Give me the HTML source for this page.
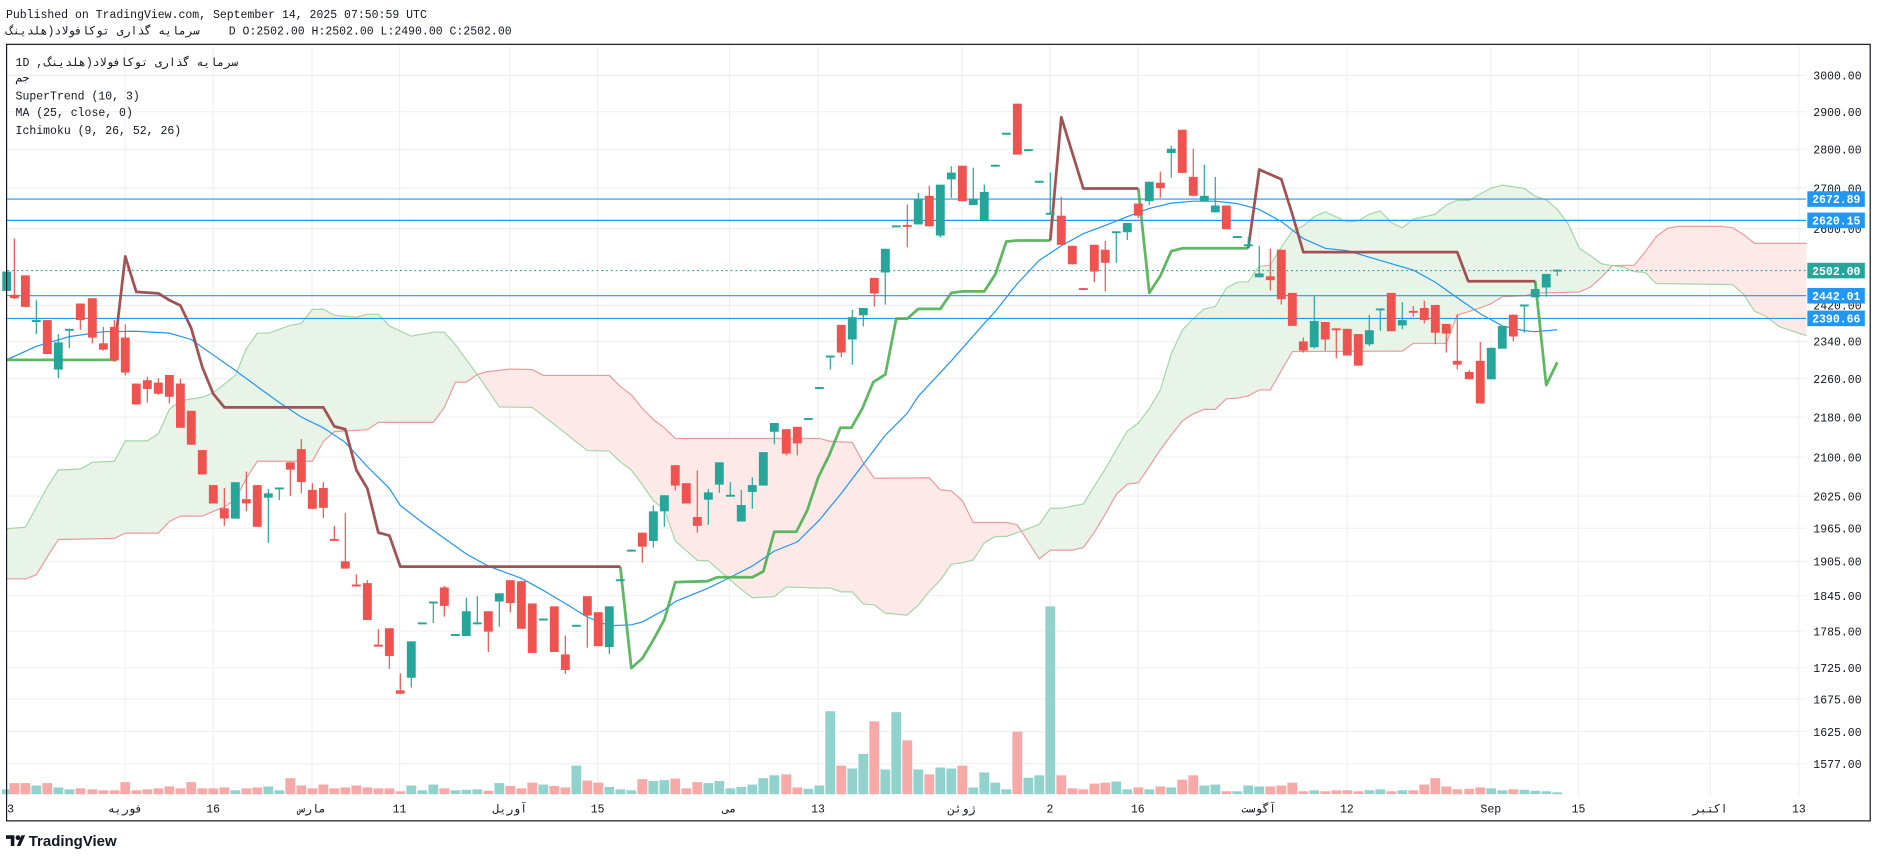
<!DOCTYPE html>
<html><head><meta charset="utf-8"><style>
html,body{margin:0;padding:0;background:#fff;width:1878px;height:858px;overflow:hidden;}
svg{display:block;}
text{font-family:"Liberation Mono","DejaVu Sans Mono","DejaVu Sans",monospace;}
</style></head><body>
<svg id="s" xmlns="http://www.w3.org/2000/svg" width="1878" height="858" viewBox="0 0 1568 716" preserveAspectRatio="none">
<rect x="0" y="0" width="1568" height="716" fill="#fff"/>
<g id="grid"></g>
<g id="cloud"></g>
<g id="vol"></g>
<g id="hl"></g>
<g id="lines"></g>
<g id="candles"></g>
<g id="axis"></g>
<rect x="5.5" y="37" width="1556" height="648" fill="none" stroke="#131722" stroke-width="1"/>
<text x="5" y="15" font-size="9.6" fill="#131722">Published on TradingView.com, September 14, 2025 07:50:59 UTC</text>
<text x="5" y="29" font-size="9.6" fill="#131722" direction="ltr"><tspan>سرمایه گذاری توکافولاد(هلدینگ</tspan></text>
<text x="191" y="29" font-size="9.6" fill="#131722">D O:2502.00 H:2502.00 L:2490.00 C:2502.00</text>
<text x="13" y="55" font-size="9.6" fill="#131722">1D ,</text>
<text x="37" y="55" font-size="9.6" fill="#131722"><tspan>سرمایه گذاری توکافولاد(هلدینگ</tspan></text>
<text x="13" y="68" font-size="9.6" fill="#131722">جم</text>
<text x="13" y="83" font-size="9.6" fill="#131722">SuperTrend (10, 3)</text>
<text x="13" y="97" font-size="9.6" fill="#131722">MA (25, close, 0)</text>
<text x="13" y="112" font-size="9.6" fill="#131722">Ichimoku (9, 26, 52, 26)</text>
<g transform="translate(5,694)">
<path d="M0 3h7v9h-3v-6h-4z" fill="#131722"/><circle cx="10" cy="5" r="2" fill="#131722"/><path d="M9 12l4-9h3l-4 9z" fill="#131722"/>
<text x="19" y="12" font-size="12.5" font-weight="bold" fill="#131722" style="font-family:'Liberation Sans',sans-serif">TradingView</text>
</g>
</svg>
<script>
(function(){
var NS="http://www.w3.org/2000/svg";
function el(p,t,a,txt){var e=document.createElementNS(NS,t);for(var k in a)e.setAttribute(k,a[k]);if(txt!=null)e.textContent=txt;document.getElementById(p).appendChild(e);return e;}
function X(z){return z*0.2783;}
function Y(z){return 33+0.405*z;}
function P(p){return 63+(Math.log(3000)-Math.log(p))*893;}
var ticks=[3000,2900,2800,2700,2600,2420,2340,2260,2180,2100,2025,1965,1905,1845,1785,1725,1675,1625,1577];
ticks.forEach(function(t){el('grid','line',{x1:6,x2:1508,y1:P(t),y2:P(t),stroke:'#eef0f4','stroke-width':1});});
var vx=[104.5,178,260.5,333.6,425.7,499,609,683,803,876.6,950,1051,1124.6,1244.7,1318,1428,1502];
var vl=['فوریه','16','مارس','11','آوریل','15','می','13','ژوئن','2','16','آگوست','12','Sep','15','اکتبر','13'];
vx.forEach(function(x,i){el('grid','line',{x1:x,x2:x,y1:38,y2:664,stroke:'#eef0f4','stroke-width':1});
 el('axis','text',{x:x,y:678,'font-size':9.6,'text-anchor':'middle',fill:'#131722'},vl[i]);});
el('axis','text',{x:6,y:678,'font-size':9.6,fill:'#131722'},'3');
ticks.forEach(function(t){el('axis','text',{x:1514,y:P(t)+3.5,'font-size':9.6,fill:'#131722'},t.toFixed(2));});
var A=[[20,1008],[76,1005],[142,922],[175,887],[241,885],[277,871],[343,869],[376,827],[442,827],[475,812],[508,762],[541,744],[607,737],[640,728],[706,692],[739,637],[772,605],[805,605],[871,589],[904,585],[937,556],[970,556],[1003,568],[1069,572],[1102,566],[1135,566],[1168,590],[1234,611],[1300,603],[1333,603],[1365,628],[1432,690],[1498,757],[1597,758],[1663,793],[1762,847],[1828,848],[1861,870],[1894,887],[1927,917],[1960,950],[1993,968],[2026,1033],[2092,1073],[2125,1074],[2191,1114],[2224,1133],[2257,1150],[2323,1148],[2359,1128],[2458,1130],[2491,1130],[2524,1138],[2557,1138],[2590,1163],[2623,1165],[2656,1182],[2722,1186],[2755,1165],[2788,1137],[2821,1114],[2854,1081],[2887,1078],[2920,1072],[2953,1037],[2986,1024],[3019,1024],[3052,1016],[3118,999],[3151,966],[3184,966],[3250,957],[3283,920],[3316,885],[3349,845],[3382,807],[3415,790],[3448,760],[3481,722],[3514,648],[3547,599],[3580,575],[3613,555],[3646,550],[3679,512],[3712,500],[3745,499],[3778,467],[3811,465],[3844,428],[3877,395],[3910,384],[3943,365],[3976,355],[4042,376],[4075,373],[4108,360],[4141,353],[4174,377],[4207,388],[4240,370],[4306,360],[4339,341],[4372,331],[4408,331],[4441,318],[4474,306],[4507,300],[4573,307],[4606,323],[4639,330],[4672,350],[4705,380],[4738,430],[4771,445],[4804,462],[4837,466],[4870,469],[4903,478],[4936,480],[4969,503],[5002,503],[5198,505],[5231,525],[5264,560],[5297,570],[5340,592],[5420,610]];
var B=[[20,1111],[76,1111],[109,1103],[142,1066],[175,1030],[343,1028],[376,1017],[475,1017],[508,993],[541,982],[607,982],[640,972],[673,963],[706,948],[739,904],[772,869],[937,869],[970,828],[1003,808],[1102,804],[1135,789],[1300,789],[1333,758],[1366,706],[1399,706],[1432,690],[1465,684],[1531,679],[1597,680],[1630,692],[1828,692],[1861,715],[1894,732],[1927,760],[1960,783],[1993,800],[2026,822],[2458,822],[2491,828],[2557,830],[2590,872],[2623,904],[2788,903],[2821,928],[2854,930],[2887,950],[2920,995],[3019,995],[3052,1000],[3118,1070],[3151,1052],[3217,1052],[3250,1047],[3283,1015],[3316,978],[3349,937],[3382,916],[3415,913],[3448,880],[3481,845],[3514,815],[3547,786],[3580,771],[3613,762],[3646,762],[3679,740],[3712,739],[3745,734],[3778,722],[3811,722],[3844,682],[3877,643],[4207,642],[4240,626],[4339,626],[4372,568],[4441,553],[4474,544],[4507,530],[4573,528],[4606,523],[4639,522],[4738,520],[4771,510],[4804,490],[4837,466],[4903,465],[4936,437],[4969,406],[5002,389],[5035,385],[5165,385],[5198,388],[5231,402],[5264,420],[5420,420]];
function pts(a){return a.map(function(p){return X(p[0]).toFixed(1)+','+Y(p[1]).toFixed(1);}).join(' ');}
var x0=X(20).toFixed(1),x1=X(5420).toFixed(1);
var defs=el('cloud','defs',{});
function cp(id,arr,yy){var c=document.createElementNS(NS,'clipPath');c.setAttribute('id',id);var p=document.createElementNS(NS,'polygon');p.setAttribute('points',pts(arr)+' '+x1+','+yy+' '+x0+','+yy);c.appendChild(p);defs.appendChild(c);}
cp('aboveB',B,-50);cp('aboveA',A,-50);
el('cloud','polygon',{points:pts(A)+' '+x1+',800 '+x0+',800',fill:'#e9f4e9','clip-path':'url(#aboveB)'});
el('cloud','polygon',{points:pts(B)+' '+x1+',800 '+x0+',800',fill:'#fde9e8','clip-path':'url(#aboveA)'});
el('cloud','polyline',{points:pts(A),fill:'none',stroke:'#a5d6a7','stroke-width':1});
el('cloud','polyline',{points:pts(B),fill:'none',stroke:'#ef9a9a','stroke-width':1});
function D(x,y,wt,wb,c,v){return [x,y-2,y+2,Math.min(wt,y-2),Math.max(wb,y+2),c,v];}
var C=[[20,478,518,478,518,'g',1545],[43,526,533,410,535,'r',1532],[76,486,551,486,551,'r',1532],D(109,580,537,607,'g',1537),[142,578,648,578,648,'r',1532],[175,624,680,607,698,'g',1541],D(208,598,596,636,'g',1545),[241,544,578,544,598,'r',1543],[277,533,614,533,626,'r',1545],[310,626,639,592,641,'r',1547],[343,592,661,578,664,'r',1547],[376,614,686,587,692,'r',1530],[409,709,752,709,752,'r',1547],[442,702,720,695,748,'r',1545],[475,707,730,698,732,'r',1543],[508,691,736,691,750,'r',1539],[541,709,800,699,800,'r',1543],[574,765,835,765,835,'r',1530],[607,846,896,846,896,'r',1543],[640,918,956,918,956,'r',1543],[673,966,987,924,1002,'r',1541],[706,912,987,912,987,'g',1547],[739,947,956,890,972,'r',1543],[772,918,1004,918,1004,'r',1541],[805,935,944,926,1037,'g',1539],D(838,925,924,949,'g',1547),[871,871,886,871,940,'r',1522],[904,844,912,823,935,'r',1537],[937,928,967,914,967,'r',1543],[970,924,965,912,986,'r',1535],D(1003,1031,1002,1033,'r',1543),[1036,1075,1090,975,1090,'r',1541],D(1069,1125,1102,1127,'r',1537),[1102,1120,1196,1114,1196,'r',1541],D(1135,1249,1215,1251,'r',1543),[1168,1213,1270,1213,1297,'r',1543],[1201,1341,1348,1306,1348,'r',1549],[1234,1240,1315,1240,1335,'g',1537],D(1267,1203,1203,1205,'g',1547),D(1300,1160,1160,1202,'g',1535),[1333,1129,1167,1126,1189,'r',1543],D(1366,1227,1227,1229,'g',1547),
[1399,1178,1229,1150,1229,'g',1546],D(1432,1203,1147,1205,'g',1545),[1465,1178,1220,1178,1262,'r',1548],[1498,1141,1158,1141,1210,'g',1532],[1531,1114,1161,1114,1180,'r',1538],[1564,1116,1214,1116,1214,'r',1543],[1597,1162,1264,1162,1264,'r',1531],D(1630,1195,1195,1197,'g',1535),[1663,1168,1262,1168,1262,'r',1538],[1696,1267,1299,1228,1307,'r',1541],D(1729,1208,1206,1210,'g',1496),[1762,1147,1187,1147,1253,'r',1527],[1795,1180,1250,1180,1250,'r',1531],[1828,1168,1252,1168,1266,'g',1540],D(1861,1114,1114,1116,'g',1545),D(1894,1053,1053,1055,'g',1547),[1927,1016,1045,1016,1078,'r',1524],[1960,972,1033,960,1047,'g',1528],[1993,939,972,939,1004,'g',1526],[2026,877,919,877,929,'r',1523],[2059,914,956,914,956,'r',1543],[2092,984,1002,888,1016,'r',1530],[2125,933,948,926,1000,'g',1532],[2158,871,917,871,934,'g',1528],D(2191,940,912,940,'g',1543),[2224,959,993,928,993,'g',1540],[2257,918,932,902,967,'g',1535],[2290,850,919,850,919,'g',1522],[2323,790,808,790,834,'g',1516],[2359,803,853,803,857,'r',1514],[2392,798,832,798,857,'r',1541],D(2425,782,782,784,'g',1544),D(2458,718,718,720,'g',1537),D(2491,653,653,680,'g',1384),[2524,588,645,588,655,'r',1496],[2557,572,618,557,670,'g',1502],[2590,553,568,553,591,'g',1472],[2623,491,523,491,550,'r',1405],[2656,431,480,431,546,'g',1504],D(2689,385,385,387,'g',1386),
D(2722,384,340,428,'r',1444),[2755,329,381,316,381,'g',1504],[2788,322,385,301,385,'r',1514],[2821,299,404,299,408,'g',1500],[2854,274,288,261,326,'g',1502],[2887,260,333,260,333,'r',1496],[2920,328,341,264,341,'g',1541],[2953,314,374,299,374,'g',1510],D(2986,260,260,262,'g',1531),D(3019,194,194,196,'g',1545),[3052,132,237,132,237,'r',1426],D(3085,228,228,230,'g',1521),D(3118,293,293,295,'g',1516),D(3151,359,274,359,'g',1168),[3184,363,423,324,423,'r',1516],[3217,425,463,425,463,'r',1543],D(3250,514,514,516,'r',1545),[3283,423,478,423,500,'r',1533],[3316,433,460,415,519,'r',1531],D(3349,397,397,460,'g',1529),[3382,378,397,378,413,'g',1545],[3415,338,363,338,368,'r',1541],[3448,293,333,293,341,'g',1545],[3481,295,306,272,326,'r',1539],[3514,225,234,219,285,'g',1541],[3547,186,275,186,275,'r',1525],[3580,283,322,225,322,'r',1516],[3613,322,333,258,333,'g',1537],[3646,342,356,283,356,'g',1535],[3679,342,391,342,391,'r',1549],D(3712,407,407,409,'g',1549),D(3745,424,407,430,'g',1537),[3778,482,490,425,490,'g',1539],[3811,488,496,431,517,'r',1539],[3844,433,535,433,546,'r',1537],[3877,522,590,522,590,'r',1531],[3910,622,641,614,645,'r',1549],[3943,580,634,529,637,'g',1547],[3976,582,618,582,641,'r',1549],D(4009,597,597,657,'r',1547),
[4042,596,651,596,651,'r',1547],[4075,607,672,607,672,'r',1549],[4108,599,628,567,632,'g',1547],D(4141,556,556,600,'g',1545),[4174,522,601,522,601,'r',1549],[4207,578,589,541,597,'g',1547],D(4240,561,549,571,'r',1547),[4273,553,578,538,585,'r',1535],[4306,547,604,547,628,'r',1522],[4339,586,606,586,645,'r',1539],[4372,662,670,566,680,'r',1545],[4408,685,700,681,700,'r',1544],[4441,662,750,623,750,'r',1541],[4474,635,700,635,700,'g',1543],[4507,590,637,590,637,'g',1547],[4540,567,612,567,622,'r',1545],D(4573,548,548,604,'g',1546),[4606,514,531,497,531,'g',1548],[4639,483,511,483,530,'g',1549],D(4672,476,476,487,'g',1551)];
var base=Y(1555);
C.forEach(function(c){var x=X(c[0]),col=c[5]=='g'?'#26a69a':'#ef5350',vc=c[5]=='g'?'#92d2cc':'#f7a9a7';
 var vt=Y(c[6]);el('vol','rect',{x:(x-4.1).toFixed(1),y:vt.toFixed(1),width:8.2,height:Math.max(0.8,base-vt).toFixed(1),fill:vc});
 el('candles','line',{x1:x,x2:x,y1:Y(c[3]),y2:Y(c[4]),stroke:col,'stroke-width':1});
 var t=Y(c[1]),b=Y(c[2]);el('candles','rect',{x:(x-3.7).toFixed(1),y:t.toFixed(1),width:7.4,height:Math.max(1.2,b-t).toFixed(1),fill:col});});
[[2672.89,'#2196f3'],[2620.15,'#2196f3'],[2442.01,'#2196f3'],[2390.66,'#2196f3']].forEach(function(h){var y=P(h[0]);el('hl','line',{x1:6,x2:1508,y1:y,y2:y,stroke:h[1],'stroke-width':1});});
var yd=Y(476);el('hl','line',{x1:6,x2:1508,y1:yd,y2:yd,stroke:'#26a69a','stroke-width':1,'stroke-dasharray':'1.5 2.5'});
var MA=[[20,660],[109,632],[208,612],[310,602],[409,601],[508,605],[574,618],[640,650],[706,682],[772,715],[838,748],[904,778],[970,800],[1036,830],[1102,880],[1168,925],[1201,960],[1267,995],[1333,1028],[1399,1060],[1465,1085],[1564,1110],[1630,1135],[1696,1162],[1762,1190],[1828,1208],[1894,1206],[1927,1200],[1993,1175],[2026,1158],[2125,1130],[2191,1108],[2257,1085],[2323,1054],[2392,1035],[2458,990],[2524,935],[2590,875],[2656,815],[2722,770],[2755,735],[2854,662],[2953,585],[2986,560],[3052,503],[3118,455],[3184,425],[3250,400],[3316,383],[3382,365],[3448,348],[3514,337],[3580,333],[3646,333],[3712,338],[3778,350],[3844,375],[3910,410],[3976,430],[4042,435],[4141,455],[4240,475],[4306,500],[4372,532],[4441,565],[4507,590],[4573,600],[4606,602],[4672,598]];
el('lines','polyline',{points:pts(MA),fill:'none',stroke:'#2196f3','stroke-width':1});
var G1=[[20,660],[350,660]];
var R1=[[350,600],[376,447],[409,520],[475,523],[508,537],[541,548],[574,595],[607,675],[640,730],[673,758],[970,758],[1003,797],[1036,803],[1069,887],[1102,925],[1135,1016],[1168,1022],[1201,1086],[1861,1086]];
var G2=[[1861,1086],[1894,1295],[1927,1275],[1960,1237],[1993,1195],[2026,1118],[2122,1116],[2152,1108],[2257,1108],[2290,1096],[2323,1014],[2389,1014],[2422,970],[2455,902],[2488,856],[2521,800],[2554,800],[2587,760],[2620,706],[2656,690],[2689,575],[2722,575],[2755,555],[2821,555],[2854,522],[2887,519],[2953,519],[2986,484],[3019,416],[3052,414],[3151,414]];
var R2=[[3151,414],[3184,160],[3250,307],[3415,307]];
var G3=[[3415,307],[3448,522],[3481,487],[3514,436],[3547,430],[3745,430]];
var R3=[[3745,430],[3778,268],[3844,288],[3877,360],[3910,438],[4372,438],[4405,498],[4606,498]];
var G4=[[4606,498],[4639,712],[4672,665]];
[G1,G2,G3,G4].forEach(function(a){el('lines','polyline',{points:pts(a),fill:'none',stroke:'#4caf50','stroke-width':2.3,'stroke-linejoin':'round',opacity:0.9});});
[R1,R2,R3].forEach(function(a){el('lines','polyline',{points:pts(a),fill:'none',stroke:'#9c4a4a','stroke-width':2.3,'stroke-linejoin':'round',opacity:0.95});});
[[2672.89,'#2196f3'],[2620.15,'#2196f3'],[2502.00,'#26a69a'],[2442.01,'#2196f3'],[2390.66,'#2196f3']].forEach(function(h){var y=h[0]==2502?yd:P(h[0]);
 el('axis','rect',{x:1509,y:(y-6.5).toFixed(1),width:48,height:13,fill:h[1]});
 el('axis','text',{x:1513,y:(y+3.5).toFixed(1),'font-size':9.6,'font-weight':'bold',fill:'#fff'},h[0].toFixed(2));});
})();
</script>
</body></html>
